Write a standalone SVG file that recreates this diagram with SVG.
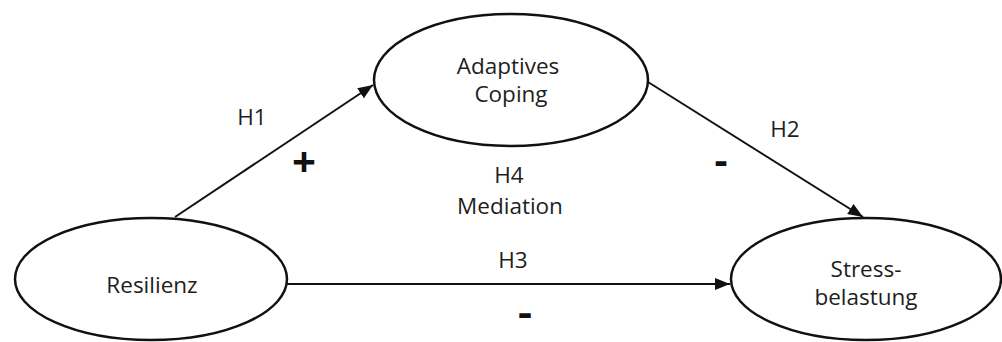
<svg xmlns="http://www.w3.org/2000/svg" width="1002" height="342" viewBox="0 0 1002 342">
  <style>
    .node ellipse { fill: #ffffff; stroke: #111111; stroke-width: 2.5; }
    .lbl { font-family: "Open Sans", "Liberation Sans", sans-serif; font-size: 22.5px; fill: #1e1e1e; text-anchor: middle; }
    .sign { font-family: "Open Sans", "Liberation Sans", sans-serif; font-weight: bold; fill: #111111; text-anchor: middle; }
    .edge { stroke: #111111; stroke-width: 2; fill: none; marker-end: url(#arrow); }
  </style>
  <defs>
    <marker id="arrow" viewBox="0 0 15 12" refX="15" refY="6" markerWidth="15" markerHeight="12" markerUnits="userSpaceOnUse" orient="auto">
      <path d="M0,0 L15,6 L0,12 z" fill="#111111"/>
    </marker>
  </defs>
  <rect width="1002" height="342" fill="#ffffff"/>

  <g id="connectors">
    <line class="edge" x1="175" y1="217" x2="373" y2="85"/>
    <line class="edge" x1="648" y1="82" x2="863" y2="217"/>
    <line class="edge" x1="287" y1="284" x2="730" y2="284"/>
  </g>

  <g id="node-adaptives" class="node">
    <ellipse cx="511" cy="80" rx="137" ry="66"/>
    <text class="lbl" x="508" y="74">Adaptives</text>
    <text class="lbl" x="511" y="102">Coping</text>
  </g>

  <g id="node-resilienz" class="node">
    <ellipse cx="151" cy="279" rx="136" ry="61"/>
    <text class="lbl" x="152" y="293">Resilienz</text>
  </g>

  <g id="node-stress" class="node">
    <ellipse cx="866" cy="279" rx="135" ry="61"/>
    <text class="lbl" x="866" y="277">Stress-</text>
    <text class="lbl" x="866" y="305">belastung</text>
  </g>

  <g id="labels">
    <text class="lbl" x="252" y="125">H1</text>
    <text class="sign" x="304" y="177" font-size="42">+</text>
    <text class="lbl" x="785" y="137">H2</text>
    <text class="sign" x="721" y="174" font-size="40" textLength="13" lengthAdjust="spacingAndGlyphs">-</text>
    <text class="lbl" x="509" y="183">H4</text>
    <text class="lbl" x="510" y="214">Mediation</text>
    <text class="lbl" x="513" y="268">H3</text>
    <text class="sign" x="525" y="326" font-size="40" textLength="14" lengthAdjust="spacingAndGlyphs">-</text>
  </g>
</svg>
